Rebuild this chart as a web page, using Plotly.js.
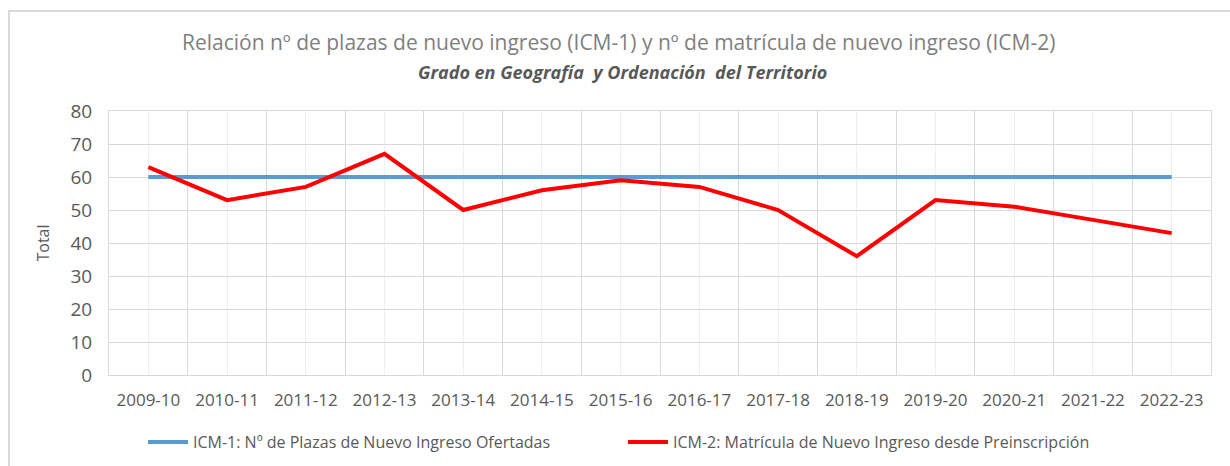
<!DOCTYPE html>
<html>
<head>
<meta charset="utf-8">
<script src="https://cdn.plot.ly/plotly-3.0.1.min.js"></script>
<style>
html,body{margin:0;padding:0;background:#fff;}
#chart{width:1230px;height:466px;}
</style>
</head>
<body>
<div id="chart"></div>
<script>
const categories = ["2009-10","2010-11","2011-12","2012-13","2013-14","2014-15","2015-16","2016-17","2017-18","2018-19","2019-20","2020-21","2021-22","2022-23"];
const icm1 = [60,60,60,60,60,60,60,60,60,60,60,60,60,60];
const icm2 = [63,53,57,67,50,56,59,57,50,36,53,51,47,43];
const yTicks = [0,10,20,30,40,50,60,70,80];
const seriesNames = ["ICM-1: Nº de Plazas de Nuevo Ingreso Ofertadas","ICM-2: Matrícula de Nuevo Ingreso desde Preinscripción"];
const titleText = "Relación nº de plazas de nuevo ingreso (ICM-1) y nº de matrícula de nuevo ingreso (ICM-2)";
const subtitleText = "Grado en Geografía  y Ordenación  del Territorio";

const idx = categories.map((c,i)=>i);
const FONT = "Open Sans, Noto Sans, sans-serif";

const traces = [
  {x: idx, y: icm1, type:"scatter", mode:"lines", name: seriesNames[0], line:{color:"#5b9bd5", width:4}},
  {x: idx, y: icm2, type:"scatter", mode:"lines", name: seriesNames[1], line:{color:"#ff0000", width:4}}
];

const layout = {
  width:1230, height:466,
  margin:{l:109, r:19, t:111, b:91, autoexpand:false},
  paper_bgcolor:"#fff", plot_bgcolor:"#fff",
  font:{family:FONT, color:"#595959"},
  title:{text:titleText, x:0.503, xref:"container", xanchor:"center", y:1-43/466, yref:"container", yanchor:"middle", font:{size:21, color:"#7f7f7f", family:FONT}},
  annotations:[{text:"<b><i>"+subtitleText+"</i></b>", xref:"paper", yref:"paper", x:(622-109)/1102, y:(375-72)/264, xanchor:"center", yanchor:"middle", showarrow:false, font:{size:18, color:"#595959", family:FONT}}],
  xaxis:{
    range:[-0.5, categories.length-0.5],
    tickmode:"array", tickvals: idx, ticktext: categories,
    showgrid:true, gridcolor:"#efefef", gridwidth:1,
    minor:{tick0:-0.5, dtick:1, showgrid:true, gridcolor:"#d9d9d9", gridwidth:1},
    showline:true, linecolor:"#d9d9d9", linewidth:1,
    ticks:"", ticklabelstandoff:10,
    tickfont:{size:17, color:"#595959", family:FONT},
    zeroline:false, fixedrange:true, mirror:true
  },
  yaxis:{
    range:[0,80], tickmode:"array", tickvals:yTicks,
    showgrid:true, gridcolor:"#d9d9d9", gridwidth:1,
    showline:true, linecolor:"#d9d9d9", mirror:true,
    zeroline:false, ticks:"", ticklabelstandoff:12,
    tickfont:{size:19, color:"#595959", family:FONT},
    title:{text:"Total", font:{size:16, color:"#595959", family:FONT}, standoff:16},
    fixedrange:true
  },
  showlegend:true,
  legend:{orientation:"h", x:(143-109)/1102, xanchor:"left", y:(375-442)/264, yanchor:"middle", entrywidth:425, entrywidthmode:"pixels", font:{size:16, color:"#595959", family:FONT}, itemwidth:40, bgcolor:"rgba(0,0,0,0)"},
  shapes:[{type:"rect", xref:"paper", yref:"paper", x0:(9-109)/1102, x1:(1240-109)/1102, y0:(375-480)/264, y1:(375-11)/264, line:{color:"#d9d9d9", width:2}, fillcolor:"rgba(0,0,0,0)", layer:"below"}]
};

Plotly.newPlot("chart", traces, layout, {staticPlot:true, displayModeBar:false});
</script>
</body>
</html>
